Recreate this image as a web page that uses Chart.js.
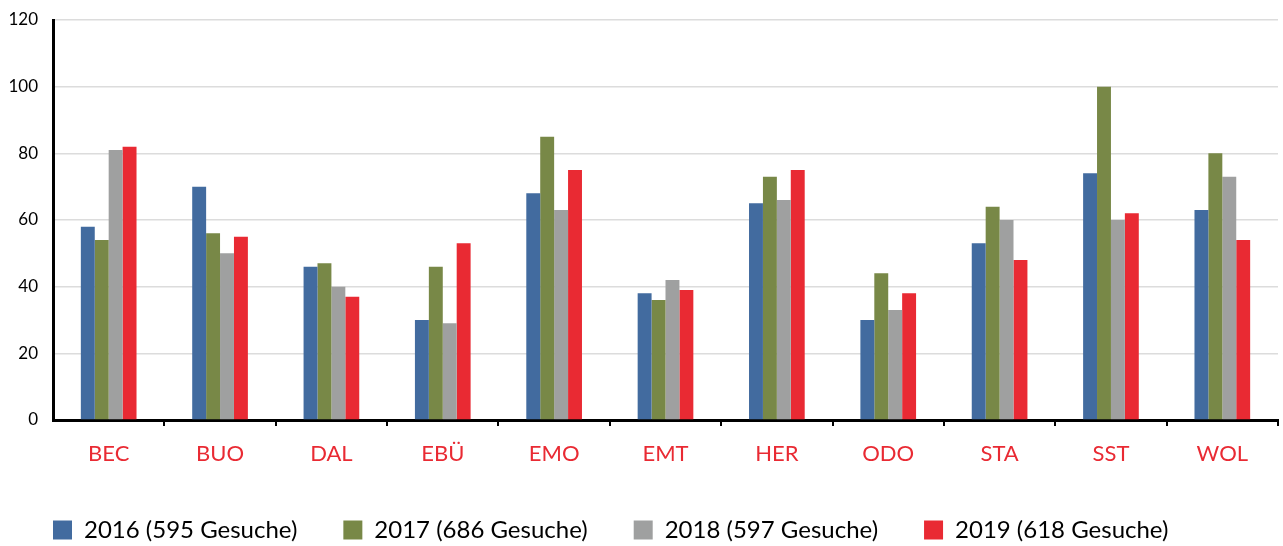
<!DOCTYPE html>
<html>
<head>
<meta charset="utf-8">
<script src="https://cdn.jsdelivr.net/npm/chart.js@4/dist/chart.umd.min.js"></script>
<style>
  html, body { margin: 0; padding: 0; background: #fff; }
  #wrap { width: 1283px; height: 546px; }
</style>
</head>
<body>
<div id="wrap"><canvas id="chart" width="1283" height="546"></canvas></div>
<script>
const categories = ['BEC', 'BUO', 'DAL', 'EBÜ', 'EMO', 'EMT', 'HER', 'ODO', 'STA', 'SST', 'WOL'];
const seriesNames = ['2016 (595 Gesuche)', '2017 (686 Gesuche)', '2018 (597 Gesuche)', '2019 (618 Gesuche)'];
const values2016 = [58, 70, 46, 30, 68, 38, 65, 30, 53, 74, 63];
const values2017 = [54, 56, 47, 46, 85, 36, 73, 44, 64, 100, 80];
const values2018 = [81, 50, 40, 29, 63, 42, 66, 33, 60, 60, 73];
const values2019 = [82, 55, 37, 53, 75, 39, 75, 38, 48, 62, 54];
const yTicks = [0, 20, 40, 60, 80, 100, 120];

const colors = ['#426b9f', '#788847', '#9fa0a0', '#e92a33'];
const fontFamily = 'Lato, "Open Sans", sans-serif';

const allValues = [values2016, values2017, values2018, values2019];
const datasets = allValues.map((vals, i) => ({
    label: seriesNames[i],
    data: vals,
    backgroundColor: colors[i],
    borderWidth: 0,
    categoryPercentage: 0.5,
    barPercentage: 1.0
}));

new Chart(document.getElementById('chart'), {
    type: 'bar',
    data: { labels: categories, datasets: datasets },
    options: {
        responsive: false,
        animation: false,
        layout: { padding: { top: 20, right: 5, left: 7, bottom: -6 } },
        plugins: {
            tooltip: { enabled: false },
            legend: {
                position: 'bottom',
                align: 'start',
                labels: {
                    boxWidth: 19,
                    boxHeight: 19,
                    padding: 46,
                    color: '#000',
                    font: { family: fontFamily, size: 24 }
                }
            }
        },
        scales: {
            x: {
                afterFit: (scale) => { scale.height = 52; },
                border: { color: '#000', width: 3 },
                grid: {
                    offset: true,
                    drawOnChartArea: false,
                    drawTicks: true,
                    tickLength: 6,
                    lineWidth: 2,
                    color: (ctx) => (ctx.index === 0 || ctx.index === categories.length) ? 'rgba(0,0,0,0)' : '#000'
                },
                ticks: {
                    color: '#e92a33',
                    padding: 15,
                    font: { family: fontFamily, size: 22 }
                }
            },
            y: {
                min: 0,
                max: 120,
                afterFit: (scale) => {
                    scale.width = 46;
                    scale.paddingTop = 0;
                    scale.paddingBottom = 0;
                },
                afterBuildTicks: (scale) => { scale.ticks = yTicks.map(v => ({ value: v })); },
                border: { color: '#000', width: 3 },
                grid: { color: '#dcdcdc', lineWidth: 1.5, drawTicks: false },
                ticks: {
                    color: '#000',
                    padding: 15,
                    font: { family: fontFamily, size: 17 }
                }
            }
        }
    }
});
</script>
</body>
</html>
